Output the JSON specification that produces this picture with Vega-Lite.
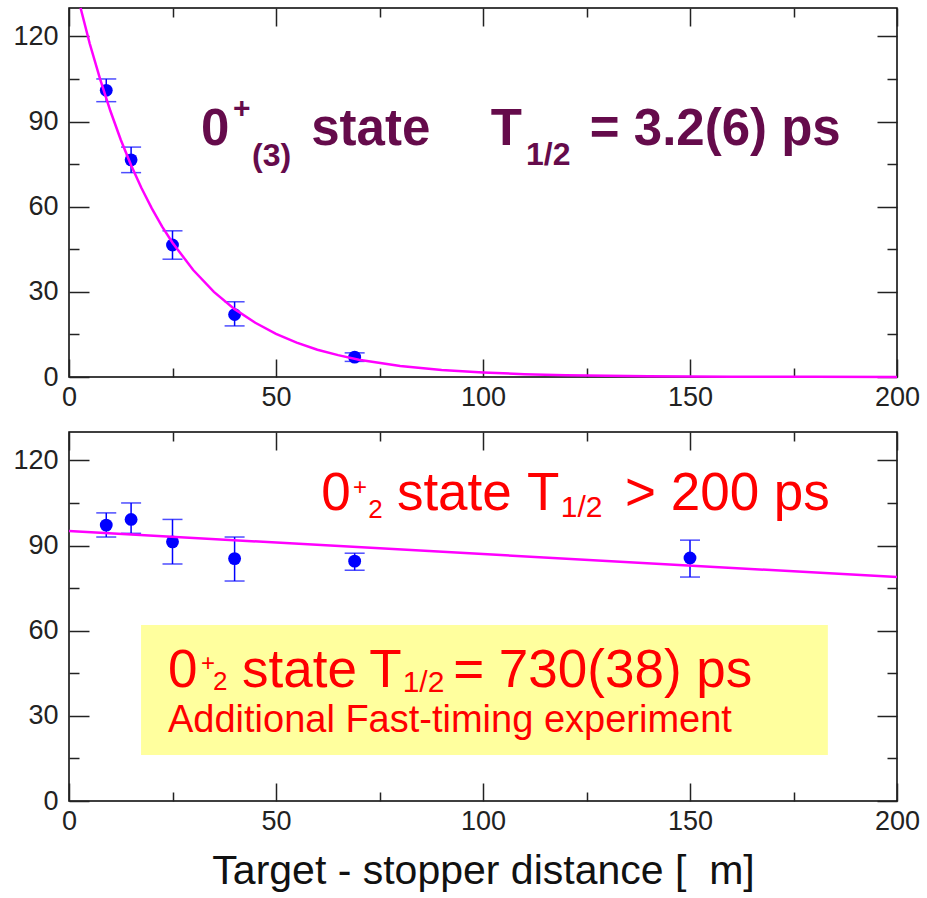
{
  "$schema": "https://vega.github.io/schema/vega-lite/v6.json",
  "padding": {"left": 12, "top": 2, "right": 5, "bottom": 5},
  "spacing": 19,
  "background": "white",
  "config": {
    "view": {"stroke": "#000", "strokeWidth": 1.5},
    "font": "Liberation Sans",
    "axis": {"domain": false, "grid": false, "labelFont": "Liberation Sans", "labelFontSize": 27, "labelColor": "#222", "tickColor": "#222", "tickWidth": 1.5, "titleFont": "Liberation Sans", "titleFontWeight": "normal", "titleColor": "#111", "labelFlush": false, "labelOverlap": false, "labelBound": false}
  },
  "datasets": {
    "topPts": [
      {"x": 9, "y": 101, "lo": 97, "hi": 105},
      {"x": 15, "y": 76.5, "lo": 72, "hi": 81},
      {"x": 25, "y": 46.5, "lo": 41.5, "hi": 51.5},
      {"x": 40, "y": 22, "lo": 18, "hi": 26.5},
      {"x": 69, "y": 7, "lo": 5.5, "hi": 8.5}
    ],
    "topCurve": [
      {"x": 2.8, "y": 130}, {"x": 5, "y": 117.5}, {"x": 7.5, "y": 105}, {"x": 10, "y": 93.7}, {"x": 12.5, "y": 83.6},
      {"x": 15, "y": 74.6}, {"x": 17.5, "y": 66.6}, {"x": 20, "y": 59.4}, {"x": 22.5, "y": 53}, {"x": 25, "y": 47.3},
      {"x": 30, "y": 37.7}, {"x": 35, "y": 30}, {"x": 40, "y": 23.9}, {"x": 45, "y": 19.1}, {"x": 50, "y": 15.2},
      {"x": 55, "y": 12.1}, {"x": 60, "y": 9.6}, {"x": 65, "y": 7.7}, {"x": 70, "y": 6.1}, {"x": 80, "y": 3.9},
      {"x": 90, "y": 2.5}, {"x": 100, "y": 1.6}, {"x": 110, "y": 1}, {"x": 120, "y": 0.6}, {"x": 140, "y": 0.25},
      {"x": 160, "y": 0.1}, {"x": 180, "y": 0.05}, {"x": 200, "y": 0.02}
    ],
    "botPts": [
      {"x": 9, "y": 97.2, "lo": 93, "hi": 101.5},
      {"x": 15, "y": 99.2, "lo": 94.3, "hi": 105},
      {"x": 25, "y": 91.3, "lo": 83.5, "hi": 99.2},
      {"x": 40, "y": 85.4, "lo": 77.5, "hi": 93},
      {"x": 69, "y": 84.5, "lo": 81.3, "hi": 87.3},
      {"x": 150, "y": 85.6, "lo": 78.9, "hi": 91.9}
    ],
    "botLine": [{"x": 0, "y": 95.1}, {"x": 100, "y": 87}, {"x": 200, "y": 78.9}],
    "box": [{"x": 17.4, "x2": 183.3, "y": 16.2, "y2": 62}],
    "topMain": [
      {"x": 31.9, "y": 81.7, "t": "0"},
      {"x": 58.5, "y": 81.7, "t": "state"},
      {"x": 101.9, "y": 81.7, "t": "T"},
      {"x": 125.8, "y": 81.7, "t": "= 3.2(6) ps"}
    ],
    "topSup": [{"x": 39.6, "y": 91.3, "t": "+"}],
    "topSub": [{"x": 44.2, "y": 74.3, "t": "(3)"}, {"x": 110.4, "y": 74.7, "t": "1/2"}],
    "redMain": [
      {"x": 60.9, "y": 102.5, "t": "0"},
      {"x": 79.2, "y": 102.5, "t": "state"},
      {"x": 110.6, "y": 102.5, "t": "T"},
      {"x": 134.3, "y": 102.5, "t": "> 200 ps"},
      {"x": 23.9, "y": 40.1, "t": "0"},
      {"x": 41.8, "y": 40.1, "t": "state"},
      {"x": 72.5, "y": 40.1, "t": "T"},
      {"x": 92.8, "y": 40.1, "t": "= 730(38) ps"}
    ],
    "redSup": [{"x": 68.6, "y": 107.9, "t": "+"}, {"x": 31.9, "y": 45.8, "t": "+"}],
    "redSub2": [{"x": 72.3, "y": 99.6, "t": "2"}, {"x": 34.8, "y": 39.1, "t": "2"}],
    "redHalf": [{"x": 118.8, "y": 100, "t": "1/2"}, {"x": 80.6, "y": 38.4, "t": "1/2"}],
    "redNote": [{"x": 23.9, "y": 24.3, "t": "Additional Fast-timing experiment"}]
  },
  "vconcat": [
    {
      "width": 828,
      "height": 369,
      "layer": [
        {
          "data": {"name": "topPts"},
          "mark": {"type": "rule", "color": "#0000ff", "strokeWidth": 1.5},
          "encoding": {
            "x": {"field": "x", "type": "quantitative", "scale": {"domain": [0, 200], "nice": false, "zero": false},
                  "axis": {"orient": "bottom", "values": [0, 50, 100, 150, 200], "tickSize": -18, "labelPadding": 25, "title": null}},
            "y": {"field": "lo", "type": "quantitative", "scale": {"domain": [0, 130], "nice": false},
                  "axis": {"orient": "left", "values": [0, 30, 60, 90, 120], "tickSize": -20, "labelPadding": 31, "title": null}},
            "y2": {"field": "hi"}
          }
        },
        {
          "data": {"name": "topPts"},
          "mark": {"type": "tick", "orient": "horizontal", "color": "#0000ff", "size": 20, "thickness": 1.5},
          "encoding": {
            "x": {"field": "x", "type": "quantitative", "axis": {"orient": "bottom", "values": [25, 75, 125, 175], "tickSize": -9, "labels": false, "title": null}},
            "y": {"field": "lo", "type": "quantitative", "axis": {"orient": "left", "values": [15, 45, 75, 105], "tickSize": -10, "labels": false, "title": null}}
          }
        },
        {
          "data": {"name": "topPts"},
          "mark": {"type": "tick", "orient": "horizontal", "color": "#0000ff", "size": 20, "thickness": 1.5},
          "encoding": {
            "x": {"field": "x", "type": "quantitative", "axis": {"orient": "top", "values": [0, 50, 100, 150, 200], "tickSize": -18, "labels": false, "title": null}},
            "y": {"field": "hi", "type": "quantitative", "axis": {"orient": "right", "values": [0, 30, 60, 90, 120], "tickSize": -20, "labels": false, "title": null}}
          }
        },
        {
          "data": {"name": "topPts"},
          "mark": {"type": "circle", "color": "#0000ff", "opacity": 1, "size": 165},
          "encoding": {
            "x": {"field": "x", "type": "quantitative", "axis": {"orient": "top", "values": [25, 75, 125, 175], "tickSize": -9, "labels": false, "title": null}},
            "y": {"field": "y", "type": "quantitative", "axis": {"orient": "right", "values": [15, 45, 75, 105], "tickSize": -10, "labels": false, "title": null}}
          }
        },
        {
          "data": {"name": "topCurve"},
          "mark": {"type": "line", "color": "#ff00ff", "strokeWidth": 2.5},
          "encoding": {
            "x": {"field": "x", "type": "quantitative", "axis": null},
            "y": {"field": "y", "type": "quantitative", "axis": null}
          }
        },
        {
          "data": {"name": "topMain"},
          "mark": {"type": "text", "align": "left", "baseline": "alphabetic", "font": "Liberation Sans", "fontWeight": "bold", "fontSize": 51, "color": "#650b4b"},
          "encoding": {
            "x": {"field": "x", "type": "quantitative", "axis": null},
            "y": {"field": "y", "type": "quantitative", "axis": null},
            "text": {"field": "t"}
          }
        },
        {
          "data": {"name": "topSup"},
          "mark": {"type": "text", "align": "left", "baseline": "alphabetic", "font": "Liberation Sans", "fontWeight": "bold", "fontSize": 30, "color": "#650b4b"},
          "encoding": {
            "x": {"field": "x", "type": "quantitative", "axis": null},
            "y": {"field": "y", "type": "quantitative", "axis": null},
            "text": {"field": "t"}
          }
        },
        {
          "data": {"name": "topSub"},
          "mark": {"type": "text", "align": "left", "baseline": "alphabetic", "font": "Liberation Sans", "fontWeight": "bold", "fontSize": 32, "color": "#650b4b"},
          "encoding": {
            "x": {"field": "x", "type": "quantitative", "axis": null},
            "y": {"field": "y", "type": "quantitative", "axis": null},
            "text": {"field": "t"}
          }
        }
      ],
      "resolve": {"axis": {"x": "independent", "y": "independent"}}
    },
    {
      "width": 828,
      "height": 369,
      "layer": [
        {
          "data": {"name": "box"},
          "mark": {"type": "rect", "color": "#ffff9e"},
          "encoding": {
            "x": {"field": "x", "type": "quantitative", "scale": {"domain": [0, 200], "nice": false, "zero": false},
                  "axis": {"orient": "bottom", "values": [0, 50, 100, 150, 200], "tickSize": -18, "labelPadding": 25, "title": "Target - stopper distance [\u00a0 m]", "titleFontSize": 41, "titlePadding": 17}},
            "x2": {"field": "x2"},
            "y": {"field": "y", "type": "quantitative", "scale": {"domain": [0, 130], "nice": false},
                  "axis": {"orient": "left", "values": [0, 30, 60, 90, 120], "tickSize": -20, "labelPadding": 31, "title": null}},
            "y2": {"field": "y2"}
          }
        },
        {
          "data": {"name": "botPts"},
          "mark": {"type": "rule", "color": "#0000ff", "strokeWidth": 1.5},
          "encoding": {
            "x": {"field": "x", "type": "quantitative", "axis": {"orient": "bottom", "values": [25, 75, 125, 175], "tickSize": -9, "labels": false, "title": null}},
            "y": {"field": "lo", "type": "quantitative", "axis": {"orient": "left", "values": [15, 45, 75, 105], "tickSize": -10, "labels": false, "title": null}},
            "y2": {"field": "hi"}
          }
        },
        {
          "data": {"name": "botPts"},
          "mark": {"type": "tick", "orient": "horizontal", "color": "#0000ff", "size": 20, "thickness": 1.5},
          "encoding": {
            "x": {"field": "x", "type": "quantitative", "axis": {"orient": "top", "values": [0, 50, 100, 150, 200], "tickSize": -18, "labels": false, "title": null}},
            "y": {"field": "lo", "type": "quantitative", "axis": {"orient": "right", "values": [0, 30, 60, 90, 120], "tickSize": -20, "labels": false, "title": null}}
          }
        },
        {
          "data": {"name": "botPts"},
          "mark": {"type": "tick", "orient": "horizontal", "color": "#0000ff", "size": 20, "thickness": 1.5},
          "encoding": {
            "x": {"field": "x", "type": "quantitative", "axis": {"orient": "top", "values": [25, 75, 125, 175], "tickSize": -9, "labels": false, "title": null}},
            "y": {"field": "hi", "type": "quantitative", "axis": {"orient": "right", "values": [15, 45, 75, 105], "tickSize": -10, "labels": false, "title": null}}
          }
        },
        {
          "data": {"name": "botPts"},
          "mark": {"type": "circle", "color": "#0000ff", "opacity": 1, "size": 165},
          "encoding": {
            "x": {"field": "x", "type": "quantitative", "axis": null},
            "y": {"field": "y", "type": "quantitative", "axis": null}
          }
        },
        {
          "data": {"name": "botLine"},
          "mark": {"type": "line", "color": "#ff00ff", "strokeWidth": 2.5},
          "encoding": {
            "x": {"field": "x", "type": "quantitative", "axis": null},
            "y": {"field": "y", "type": "quantitative", "axis": null}
          }
        },
        {
          "data": {"name": "redMain"},
          "mark": {"type": "text", "align": "left", "baseline": "alphabetic", "font": "Liberation Sans", "fontSize": 53, "color": "#ff0000"},
          "encoding": {
            "x": {"field": "x", "type": "quantitative", "axis": null},
            "y": {"field": "y", "type": "quantitative", "axis": null},
            "text": {"field": "t"}
          }
        },
        {
          "data": {"name": "redSup"},
          "mark": {"type": "text", "align": "left", "baseline": "alphabetic", "font": "Liberation Sans", "fontSize": 24, "color": "#ff0000"},
          "encoding": {
            "x": {"field": "x", "type": "quantitative", "axis": null},
            "y": {"field": "y", "type": "quantitative", "axis": null},
            "text": {"field": "t"}
          }
        },
        {
          "data": {"name": "redSub2"},
          "mark": {"type": "text", "align": "left", "baseline": "alphabetic", "font": "Liberation Sans", "fontSize": 26, "color": "#ff0000"},
          "encoding": {
            "x": {"field": "x", "type": "quantitative", "axis": null},
            "y": {"field": "y", "type": "quantitative", "axis": null},
            "text": {"field": "t"}
          }
        },
        {
          "data": {"name": "redHalf"},
          "mark": {"type": "text", "align": "left", "baseline": "alphabetic", "font": "Liberation Sans", "fontSize": 30, "color": "#ff0000"},
          "encoding": {
            "x": {"field": "x", "type": "quantitative", "axis": null},
            "y": {"field": "y", "type": "quantitative", "axis": null},
            "text": {"field": "t"}
          }
        },
        {
          "data": {"name": "redNote"},
          "mark": {"type": "text", "align": "left", "baseline": "alphabetic", "font": "Liberation Sans", "fontSize": 38, "color": "#ff0000"},
          "encoding": {
            "x": {"field": "x", "type": "quantitative", "axis": null},
            "y": {"field": "y", "type": "quantitative", "axis": null},
            "text": {"field": "t"}
          }
        }
      ],
      "resolve": {"axis": {"x": "independent", "y": "independent"}}
    }
  ]
}
